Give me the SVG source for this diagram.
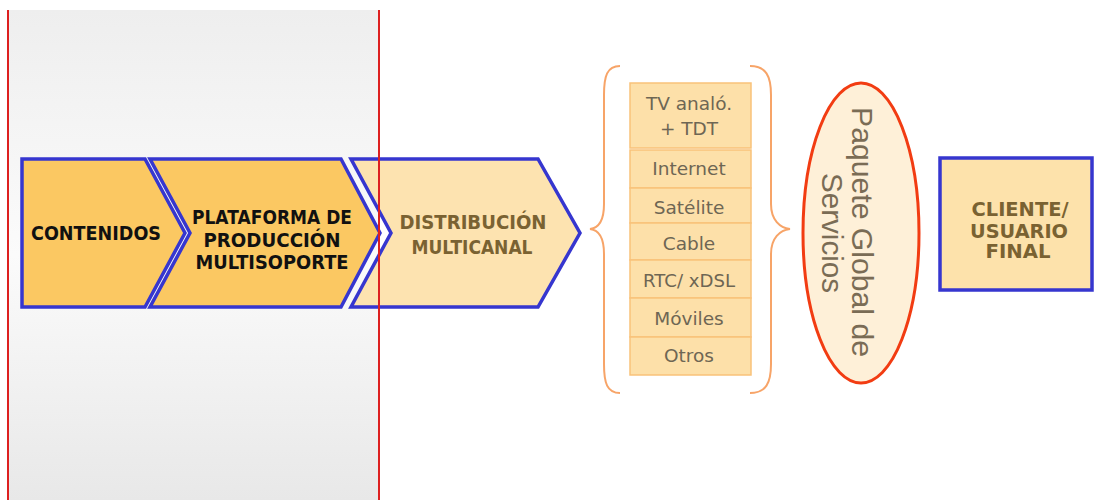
<svg xmlns="http://www.w3.org/2000/svg" width="1105" height="500" viewBox="0 0 1105 500">
  <defs>
    <linearGradient id="panelFill" x1="0" y1="0" x2="0" y2="1">
      <stop offset="0" stop-color="#eeeeee"/>
      <stop offset="0.5" stop-color="#fbfbfb"/>
      <stop offset="1" stop-color="#e8e8e8"/>
    </linearGradient>
    <style>
      .chev { stroke: #3636cf; stroke-width: 3.5; stroke-linejoin: miter; }
      .dark { fill: #fbc862; }
      .light { fill: #fde3b0; }
      .capsBlack { font-family: "DejaVu Sans", Verdana, sans-serif; font-weight: bold; font-size: 19px; fill: #111111; text-anchor: middle; }
      .capsBrown { font-family: "DejaVu Sans", Verdana, sans-serif; font-weight: bold; font-size: 19px; fill: #7a6232; text-anchor: middle; }
      .cell { fill: #fde0a9; stroke: #f9c27a; stroke-width: 1.5; }
      .item { font-family: "DejaVu Sans", Verdana, sans-serif; font-size: 18.5px; fill: #6e6654; text-anchor: middle; }
      .brace { fill: none; stroke: #f7a468; stroke-width: 2; }
      .redline { stroke: #dd2020; stroke-width: 2; }
      .oval { font-family: "Liberation Sans", Arial, sans-serif; font-size: 30px; fill: #7a6c55; text-anchor: middle; }
    </style>
  </defs>

  <rect width="1105" height="500" fill="#ffffff"/>

  <!-- shaded background panel behind the production stages -->
  <g id="panel">
    <rect x="8" y="10" width="371" height="490" fill="url(#panelFill)"/>
  </g>

  <!-- stage 1 -->
  <g id="contenidos">
    <path class="chev dark" d="M22,159 L145,159 L185,233 L145,307 L22,307 Z"/>
    <text class="capsBlack" x="96" y="240" textLength="130" lengthAdjust="spacingAndGlyphs">CONTENIDOS</text>
  </g>

  <!-- stage 2 -->
  <g id="plataforma">
    <path class="chev dark" d="M150,159 L341,159 L380,233 L341,307 L150,307 L190,233 Z"/>
    <text class="capsBlack" x="272" y="224" textLength="160" lengthAdjust="spacingAndGlyphs">PLATAFORMA DE</text>
    <text class="capsBlack" x="272" y="247" textLength="137" lengthAdjust="spacingAndGlyphs">PRODUCCIÓN</text>
    <text class="capsBlack" x="272" y="269" textLength="153" lengthAdjust="spacingAndGlyphs">MULTISOPORTE</text>
  </g>

  <!-- stage 3 -->
  <g id="distribucion">
    <path class="chev light" d="M351,159 L538,159 L580,233 L538,307 L351,307 L391,233 Z"/>
    <text class="capsBrown" x="473" y="229" textLength="147" lengthAdjust="spacingAndGlyphs">DISTRIBUCIÓN</text>
    <text class="capsBrown" x="472" y="254" textLength="121" lengthAdjust="spacingAndGlyphs">MULTICANAL</text>
  </g>

  <!-- panel borders drawn above the stages -->
  <g id="panelBorders">
    <line class="redline" x1="8" y1="10" x2="8" y2="500"/>
    <line class="redline" x1="379" y1="10" x2="379" y2="500"/>
  </g>

  <!-- braces around the channel list -->
  <g id="braces">
    <path class="brace" d="M620,66 C607,66 604,76 604,95 L604,204 C604,220 599,228 590,229 C599,230 604,238 604,254 L604,364 C604,383 607,393 620,393"/>
    <path class="brace" d="M750,66 C766,66 771,76 771,95 L771,204 C771,220 780,228 790,229 C780,230 771,238 771,254 L771,364 C771,383 766,393 750,393"/>
  </g>

  <!-- distribution channels -->
  <g id="canales">
    <rect class="cell" x="630" y="83" width="121" height="65"/>
    <rect class="cell" x="630" y="150" width="121" height="38"/>
    <rect class="cell" x="630" y="188" width="121" height="35"/>
    <rect class="cell" x="630" y="223" width="121" height="37"/>
    <rect class="cell" x="630" y="260" width="121" height="38"/>
    <rect class="cell" x="630" y="298" width="121" height="39"/>
    <rect class="cell" x="630" y="337" width="121" height="38"/>
    <text class="item" x="689" y="110">TV analó.</text>
    <text class="item" x="689" y="135">+ TDT</text>
    <text class="item" x="689" y="175">Internet</text>
    <text class="item" x="689" y="214">Satélite</text>
    <text class="item" x="689" y="250">Cable</text>
    <text class="item" x="689" y="287" textLength="92" lengthAdjust="spacingAndGlyphs">RTC/ xDSL</text>
    <text class="item" x="689" y="325">Móviles</text>
    <text class="item" x="689" y="362">Otros</text>
  </g>

  <!-- service bundle -->
  <g id="paquete">
    <ellipse cx="861" cy="233" rx="58" ry="150" fill="#fef0d8" stroke="#f23c12" stroke-width="3"/>
    <text class="oval" transform="translate(852,232) rotate(90)" textLength="250" lengthAdjust="spacingAndGlyphs">Paquete Global de</text>
    <text class="oval" transform="translate(822,233) rotate(90)" textLength="120" lengthAdjust="spacingAndGlyphs">Servicios</text>
  </g>

  <!-- end user -->
  <g id="cliente">
    <rect x="940" y="158" width="152" height="132" fill="#fde2ab" stroke="#3636cf" stroke-width="3.5"/>
    <text class="capsBrown" x="1020" y="216" font-size="21" textLength="97" lengthAdjust="spacingAndGlyphs">CLIENTE/</text>
    <text class="capsBrown" x="1019" y="237.5" font-size="21" textLength="98" lengthAdjust="spacingAndGlyphs">USUARIO</text>
    <text class="capsBrown" x="1018" y="258" font-size="21" textLength="65" lengthAdjust="spacingAndGlyphs">FINAL</text>
  </g>
</svg>
